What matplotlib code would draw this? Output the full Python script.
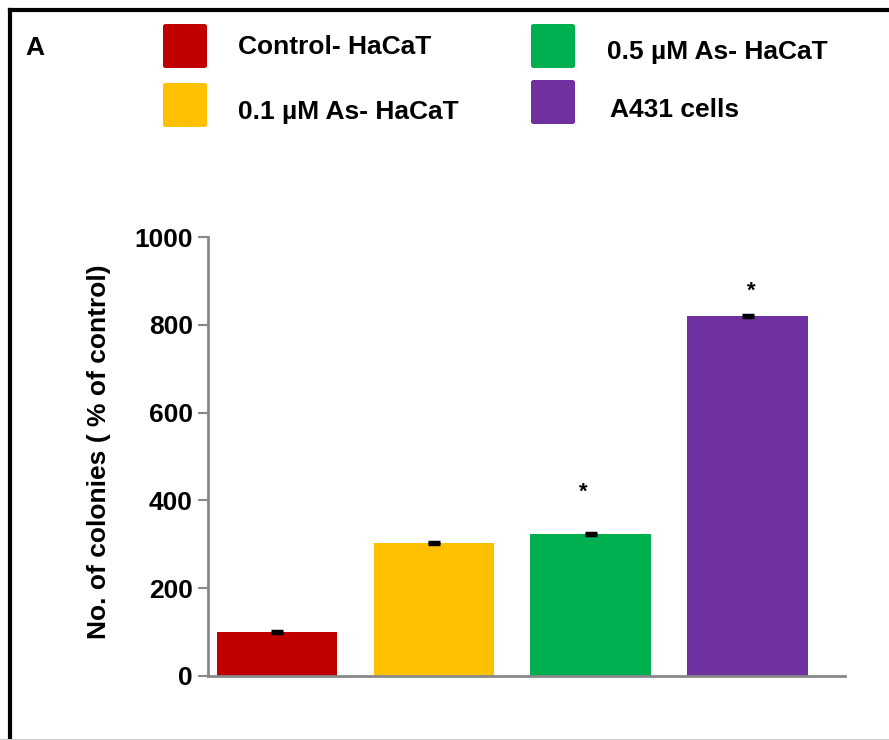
import numpy as np
import matplotlib
matplotlib.use("Agg")
import matplotlib.pyplot as plt
from matplotlib.patches import FancyBboxPatch
from matplotlib.lines import Line2D

plt.rcParams['font.family'] = ['Liberation Sans', 'DejaVu Sans']
plt.rcParams['font.weight'] = 'bold'

groups = ["Control- HaCaT", "0.1 \u00b5M As- HaCaT", "0.5 \u00b5M As- HaCaT", "A431 cells"]
values = [100, 303, 323, 820]
errors = [2, 2, 2, 2]
colors = ["#C00000", "#FFC000", "#00B050", "#7030A0"]
stars = [None, None, 418, 876]   # y of significance marks
star_dx = [0, 0, -0.05, 0.02]

fig = plt.figure(figsize=(8.89, 7.40), dpi=100)
ax = fig.add_axes([0.234, 0.0865, 0.7165, 0.5932])

x = np.arange(len(values))
ax.bar(x, values, width=0.77, color=colors, zorder=2)
ax.errorbar(x, values, yerr=errors, fmt='none', ecolor='black',
            elinewidth=1, capsize=4.5, capthick=2.5, zorder=3)
for xi, sy, dx in zip(x, stars, star_dx):
    if sy is not None:
        ax.text(xi + dx, sy, "*", ha='center', va='center', fontsize=16, fontweight='bold')

ax.set_xlim(-0.44, 3.62)
ax.set_ylim(0, 1000)
ax.set_yticks([0, 200, 400, 600, 800, 1000])
ax.set_xticks([])
ax.tick_params(axis='y', direction='out', length=7, width=1.5, color='#888888',
               labelsize=19, pad=4)
for lab in ax.get_yticklabels():
    lab.set_fontweight('bold')
for s in ['top', 'right']:
    ax.spines[s].set_visible(False)
for s in ['left', 'bottom']:
    ax.spines[s].set_color('#888888')
    ax.spines[s].set_linewidth(2)
ax.set_ylabel("No. of colonies ( % of control)", fontsize=19, fontweight='bold')
ax.yaxis.set_label_coords(-0.153, 0.51)

# legend drawn in figure pixels
W, H = 889, 740
def px(xp, yp):
    return xp / W, 1 - yp / H

legend_items = [
    (163, 24, 238, 47, 0),
    (163, 83, 238, 112, 1),
    (531, 24, 607, 52, 2),
    (531, 80, 610, 110, 3),
]
for bx, by, tx, ty, i in legend_items:
    x0, y0 = px(bx, by + 44)
    patch = FancyBboxPatch((x0, y0), 44 / W, 44 / H, boxstyle="round,pad=0,rounding_size=0.003",
                           transform=fig.transFigure, facecolor=colors[i], edgecolor='none')
    fig.patches.append(patch)
    tx_, ty_ = px(tx, ty)
    fig.text(tx_, ty_, groups[i], fontsize=19, fontweight='bold', va='center', ha='left')

fig.text(*px(25, 48), "A", fontsize=19, fontweight='bold', va='center', ha='left')

# frame
fig.add_artist(Line2D([9.5 / W, 9.5 / W], [0, 1 - 9.5 / H], color='black', lw=3,
                      transform=fig.transFigure, solid_capstyle='projecting'))
fig.add_artist(Line2D([9.5 / W, 1], [1 - 9.5 / H, 1 - 9.5 / H], color='black', lw=3,
                      transform=fig.transFigure, solid_capstyle='projecting'))
fig.add_artist(Line2D([0, 1], [0.5 / H, 0.5 / H], color='#c8c8c8', lw=1.5,
                      transform=fig.transFigure))

fig.savefig("out.png", dpi=100)
